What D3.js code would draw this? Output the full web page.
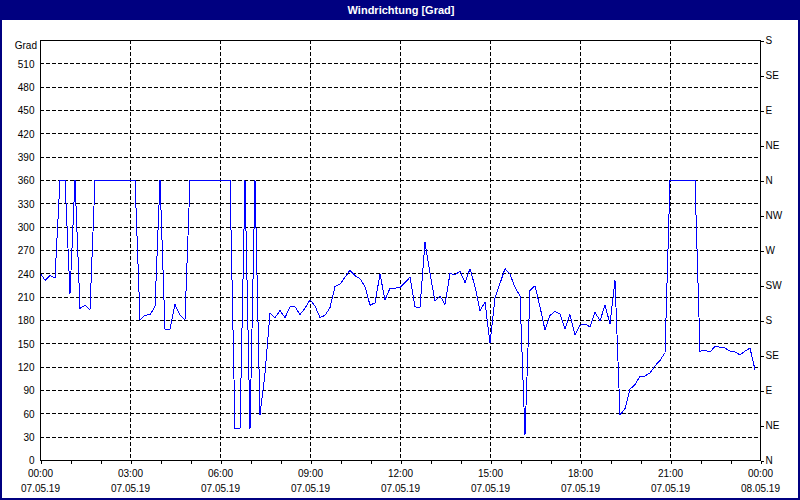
<!DOCTYPE html>
<html><head><meta charset="utf-8">
<script src="https://cdn.jsdelivr.net/npm/d3@7"></script>
<style>
body{margin:0;background:#fff;}
svg{display:block;}
text{font-family:"Liberation Sans",Arial,sans-serif;}
</style>
</head><body>
<svg id="chart" width="800" height="500"></svg>
<script>
// ---- data ----
const chartTitle = "Windrichtung [Grad]";
const unitLabel = "Grad";
const startTime = new Date(2019, 4, 7, 0, 0);
const endTime = new Date(2019, 4, 8, 0, 0);
const stepMinutes = 10;
const windDir = [
  241,231,237,234,360,360,214,360,195,199,193,
  360,360,360,360,360,360,360,360,360,
  180,186,187,197,360,168,168,200,186,180,
  360,360,360,360,360,360,360,360,360,
  41,41,360,40,360,58,111,189,183,192,183,197,197,187,195,206,198,183,186,196,
  223,226,235,244,237,233,223,199,202,239,206,221,221,222,228,235,197,196,280,
  240,204,211,200,240,238,243,228,246,223,192,203,150,208,227,246,239,222,211,
  32,218,224,197,167,186,191,188,169,187,161,173,175,171,190,179,199,175,231,
  58,66,91,97,108,108,112,121,128,138,
  360,360,360,360,360,360,
  140,141,139,146,145,144,140,139,135,140,144,116
];
const leftTickValues = [0,30,60,90,120,150,180,210,240,270,300,330,360,390,420,450,480,510];
const compassValues = [0,45,90,135,180,225,270,315,360,405,450,495,540];
const compassLabels = ["N","NE","E","SE","S","SW","W","NW","N","NE","E","SE","S"];
const timeLabels = ["00:00","03:00","06:00","09:00","12:00","15:00","18:00","21:00","00:00"];
const dateLabels = ["07.05.19","07.05.19","07.05.19","07.05.19","07.05.19","07.05.19","07.05.19","07.05.19","08.05.19"];

// ---- layout ----
const W = 800, H = 500;
const plot = {left: 40, right: 760, top: 40, bottom: 460};
const svg = d3.select("#chart");

svg.append("rect").attr("x", 1).attr("y", 1).attr("width", W - 2).attr("height", H - 2)
  .attr("fill", "#ffffff").attr("stroke", "#000080").attr("stroke-width", 2);
svg.append("rect").attr("x", 0).attr("y", 0).attr("width", W).attr("height", 20).attr("fill", "#000080");
svg.append("text").attr("x", 401).attr("y", 14).attr("text-anchor", "middle")
  .attr("fill", "#ffffff").attr("font-weight", "bold").attr("font-size", "11px").text(chartTitle);

const x = d3.scaleTime().domain([startTime, endTime]).range([plot.left, plot.right]);
const y = d3.scaleLinear().domain([0, 540]).range([plot.bottom, plot.top]);

const threeHourTicks = d3.timeHour.every(3).range(startTime, d3.timeMinute.offset(endTime, 1));
const hourTicks = d3.timeHour.every(1).range(startTime, d3.timeMinute.offset(endTime, 1));

// grid
const grid = svg.append("g").attr("stroke", "#000").attr("stroke-width", 1)
  .attr("stroke-dasharray", "4,2").attr("shape-rendering", "crispEdges");
grid.selectAll("line.h").data(leftTickValues.filter(v => v > 0)).enter().append("line")
  .attr("x1", plot.left).attr("x2", plot.right)
  .attr("y1", d => Math.round(y(d)) + 0.5).attr("y2", d => Math.round(y(d)) + 0.5);
grid.selectAll("line.v").data(threeHourTicks.slice(1, -1)).enter().append("line")
  .attr("y1", plot.top).attr("y2", plot.bottom)
  .attr("x1", d => Math.round(x(d)) + 0.5).attr("x2", d => Math.round(x(d)) + 0.5);

// data line
const points = windDir.map((v, i) => ({t: d3.timeMinute.offset(startTime, i * stepMinutes), v}));
svg.append("path").datum(points)
  .attr("fill", "none").attr("stroke", "#0000ff").attr("stroke-width", 1)
  .attr("shape-rendering", "crispEdges")
  .attr("d", d3.line().x(d => x(d.t)).y(d => y(d.v)));

// frame
svg.append("rect").attr("x", plot.left + 0.5).attr("y", plot.top + 0.5)
  .attr("width", plot.right - plot.left).attr("height", plot.bottom - plot.top)
  .attr("fill", "none").attr("stroke", "#000").attr("shape-rendering", "crispEdges");

// left axis
const leftAxis = svg.append("g").attr("transform", `translate(${plot.left + 0.5},0.5)`)
  .call(d3.axisLeft(y).tickValues(leftTickValues).tickSize(0).tickPadding(6).tickFormat(d => d));
leftAxis.select(".domain").remove();
leftAxis.selectAll("text").attr("font-size", "10px").attr("fill", "#000")
  .attr("font-family", "Liberation Sans, Arial, sans-serif");
svg.append("text").attr("x", 37).attr("y", 49).attr("text-anchor", "end")
  .attr("font-size", "10px").attr("fill", "#000").text(unitLabel);

// right axis
const rightAxis = svg.append("g").attr("transform", `translate(${plot.right + 0.5},0.5)`)
  .call(d3.axisRight(y).tickValues(compassValues).tickSize(3).tickPadding(2)
    .tickFormat((d, i) => compassLabels[i]));
rightAxis.select(".domain").remove();
rightAxis.selectAll("line").attr("shape-rendering", "crispEdges");
rightAxis.selectAll("text").attr("font-size", "10px").attr("fill", "#000")
  .attr("font-family", "Liberation Sans, Arial, sans-serif");

// bottom axis: hourly minor ticks
const minorAxis = svg.append("g").attr("transform", `translate(0.5,${plot.bottom + 0.5})`)
  .call(d3.axisBottom(x).tickValues(hourTicks).tickSize(3).tickFormat(""));
minorAxis.select(".domain").remove();
minorAxis.selectAll("line").attr("shape-rendering", "crispEdges");

// bottom axis labels
const bottomAxis = svg.append("g").attr("transform", `translate(0,${plot.bottom})`)
  .call(d3.axisBottom(x).tickValues(threeHourTicks).tickSize(0).tickPadding(0)
    .tickFormat((d, i) => timeLabels[i]));
bottomAxis.select(".domain").remove();
bottomAxis.selectAll("text").attr("font-size", "10px").attr("fill", "#000")
  .attr("font-family", "Liberation Sans, Arial, sans-serif")
  .attr("dy", null).attr("y", 17)
  .each(function(d, i) {
    d3.select(this).append("tspan").attr("x", 0).attr("y", 32).text(dateLabels[i]);
  });
</script>
</body></html>
